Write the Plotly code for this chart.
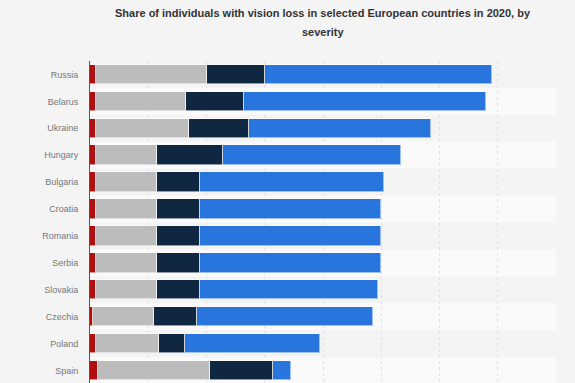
import plotly.graph_objects as go

countries = ["Russia", "Belarus", "Ukraine", "Hungary", "Bulgaria", "Croatia",
             "Romania", "Serbia", "Slovakia", "Czechia", "Poland", "Spain"]
blindness = [0.54, 0.54, 0.54, 0.54, 0.54, 0.54, 0.54, 0.54, 0.54, 0.24, 0.54, 0.67]
mild = [9.52, 7.66, 7.94, 5.19, 5.19, 5.19, 5.19, 5.19, 5.19, 5.24, 5.37, 9.61]
moderate_severe = [4.94, 5.00, 5.21, 5.70, 3.73, 3.73, 3.73, 3.73, 3.73, 3.69, 2.27, 5.41]
near = [19.49, 20.83, 15.54, 15.28, 15.79, 15.50, 15.50, 15.50, 15.25, 15.08, 11.55, 1.52]
x_ticks = [0, 5, 10, 15, 20, 25, 30, 35, 40]
title_lines = ["Share of individuals with vision loss in selected European countries in 2020, by",
               "severity"]

series = [
    ("Blindness", blindness, "#b00f0f"),
    ("Mild vision impairment", mild, "#bcbcbc"),
    ("Moderate and severe vision impairment", moderate_severe, "#0f2740"),
    ("Near vision impairment", near, "#2876dd"),
]

ypos = list(range(len(countries)))

fig = go.Figure()
for name, vals, color in series:
    fig.add_trace(go.Bar(
        y=ypos, x=vals, name=name, orientation="h",
        marker=dict(color=color, line=dict(color="rgba(255,255,255,0.55)", width=1)),
        width=0.725,
        hovertemplate="%{text}: %{x}%<extra>" + name + "</extra>",
        text=countries, textposition="none",
    ))

shapes = []
for i in ypos:
    if i % 2 == 1:
        shapes.append(dict(type="rect", xref="x domain", yref="y",
                           x0=0, x1=1, y0=i - 0.5, y1=i + 0.5,
                           fillcolor="#fafafa", line=dict(width=0), layer="below"))

annotations = []
for k, line in enumerate(title_lines):
    annotations.append(dict(
        text="<b>" + line + "</b>", xref="paper", yref="paper",
        x=0.5, y=1 + (61 - 13.3 - 18.4 * k) / 322, xanchor="center", yanchor="middle",
        showarrow=False,
        font=dict(size=11, color="#333333", family="Liberation Sans, Arial, sans-serif"),
    ))

fig.update_layout(
    width=575, height=383,
    barmode="stack",
    showlegend=False,
    paper_bgcolor="#f4f4f4",
    plot_bgcolor="#f4f4f4",
    margin=dict(l=90, r=19, t=61, b=0, autoexpand=False),
    font=dict(family="Liberation Sans, Arial, sans-serif", color="#666666", size=10),
    shapes=shapes,
    annotations=annotations,
    bargap=0,
)
fig.update_xaxes(range=[0, 40], tickvals=x_ticks, showticklabels=False,
                 showgrid=True, gridcolor="#e2e2e2", griddash="dot", gridwidth=1,
                 zeroline=False, showline=False, fixedrange=True, automargin=False)
fig.update_yaxes(range=[11.47, -0.5], tickvals=ypos, ticktext=countries,
                 showgrid=False, zeroline=False, showline=True, linecolor="#555555",
                 linewidth=1, ticks="", ticklabelstandoff=9, fixedrange=True,
                 automargin=False,
                 tickfont=dict(size=9, color="#777777"))

fig.write_html(
    "out.html",
    config={"displayModeBar": False},
    post_script="document.body.style.margin='0';document.body.style.background='#f4f4f4';document.body.style.overflow='hidden';",
)
